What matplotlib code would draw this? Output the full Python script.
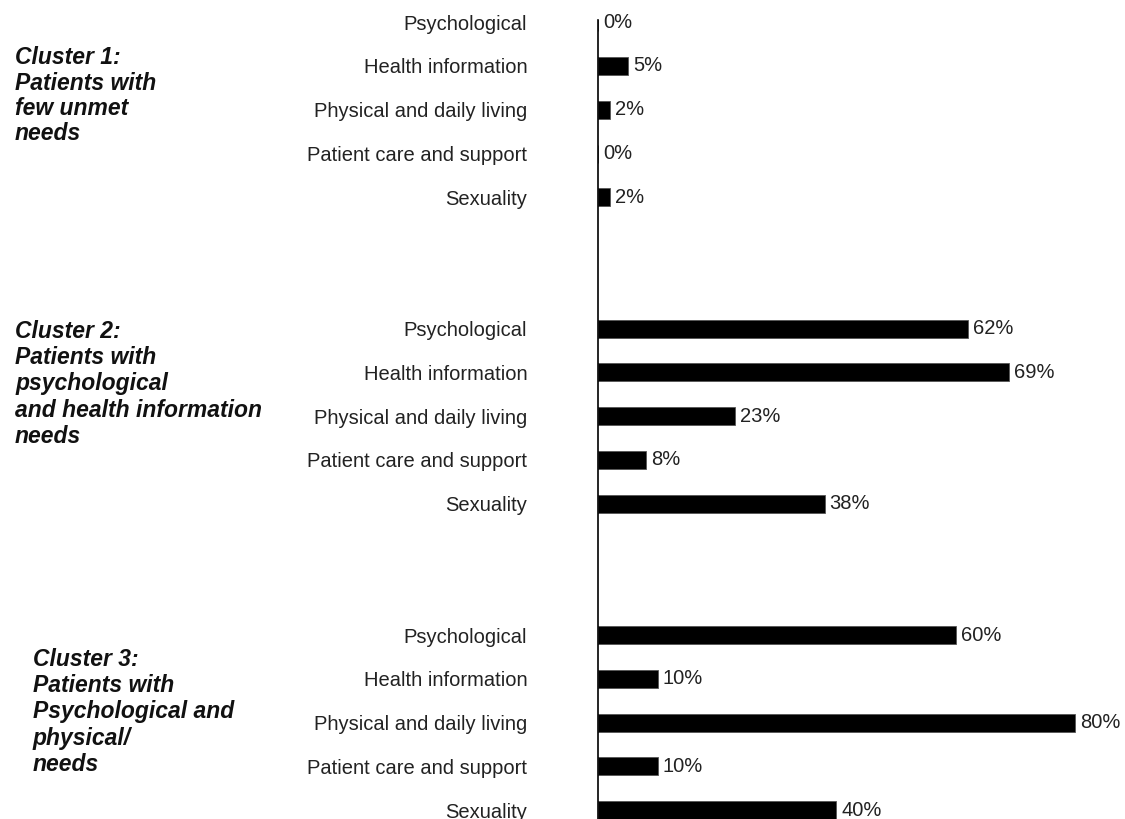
import numpy as np
import matplotlib
matplotlib.use("Agg")
import matplotlib.pyplot as plt

plt.rcParams["font.family"] = ["Liberation Sans", "DejaVu Sans"]

CATEGORIES = [
    "Psychological", "Health information", "Physical and daily living",
    "Patient care and support", "Sexuality"
]
CLUSTER_1 = [0, 5, 2, 0, 2]
CLUSTER_2 = [62, 69, 23, 8, 38]
CLUSTER_3 = [60, 10, 80, 10, 40]
CLUSTER_LABELS = [
    ["Cluster 1:", "Patients with", "few unmet", "needs"],
    ["Cluster 2:", "Patients with", "psychological", "and health information", "needs"],
    ["Cluster 3:", "Patients with", "Psychological and", "physical/", "needs"],
]

W, H = 1125, 819
fig = plt.figure(figsize=(W / 100, H / 100), dpi=100)
ax = fig.add_axes([598 / W, 0, (W - 598) / W, (H - 20) / H])

clusters = [CLUSTER_1, CLUSTER_2, CLUSTER_3]
ypos, values, labels = [], [], []
for g, vals in enumerate(clusters):
    for i, v in enumerate(vals):
        ypos.append(g * 7 + i)
        values.append(v)
        labels.append(CATEGORIES[i])
ypos = np.array(ypos)

ax.barh(ypos, values, height=0.41, color="black", edgecolor="#555555", linewidth=0.6)
for y, v in zip(ypos, values):
    ax.annotate(f"{v}%", (v, y), xytext=(3.6, 0), textcoords="offset points",
                va="center", ha="left", fontsize=14.5, color="#222222")

ax.set_xlim(0, 88.4)
ax.set_ylim(18.2, -0.05)
ax.set_yticks(ypos)
ax.set_yticklabels(labels, fontsize=14.5, color="#222222")
ax.tick_params(axis="y", length=0, pad=51)
ax.set_xticks([])
for s in ["top", "right", "bottom"]:
    ax.spines[s].set_visible(False)
ax.spines["left"].set_linewidth(1.2)

# cluster labels, placed line by line (baseline of first line, line step, left x in pixels)
label_pos = [(64, 25.5, 15), (338, 26.2, 15), (666, 26.2, 33)]
for lines, (y0, step, x) in zip(CLUSTER_LABELS, label_pos):
    for k, txt in enumerate(lines):
        py = y0 + k * step
        fig.text(x / W, 1 - py / H, txt, fontsize=16.5, fontweight="bold",
                 fontstyle="italic", va="baseline", ha="left", color="#111111")

fig.savefig("out.png", dpi=100)
